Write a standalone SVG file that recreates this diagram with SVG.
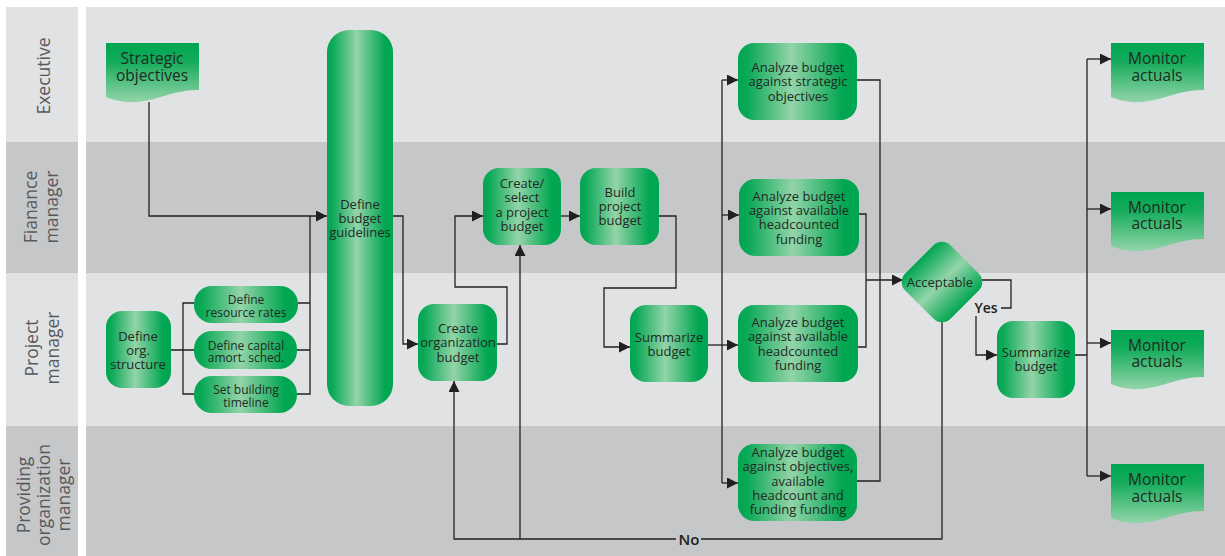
<svg xmlns="http://www.w3.org/2000/svg" width="1225" height="556" viewBox="0 0 1225 556">
<style>
.laneL{fill:#e1e2e4}
.laneD{fill:#c6c7c9}
.lt{font-family:"Open Sans","Noto Sans",sans-serif;font-size:17.5px;fill:#58595b;text-anchor:middle}
.nt{font-family:"Open Sans","Noto Sans",sans-serif;font-size:13px;fill:#1f2a22;text-anchor:middle}
.st{font-size:12px}
.dt{font-family:"Open Sans","Noto Sans",sans-serif;font-size:15.5px;fill:#1f2a22;text-anchor:middle}
.lbl{font-family:"Open Sans","Noto Sans",sans-serif;font-weight:600;fill:#231f20;text-anchor:middle}
.box{fill:url(#gH)}
.doc{fill:url(#gV)}
.c{fill:none;stroke:#231f20;stroke-width:1.3}
.a{marker-end:url(#ar)}
</style>
<defs>
<linearGradient id="gH" x1="0" y1="0" x2="1" y2="0">
<stop offset="0" stop-color="#00a651"/>
<stop offset="0.08" stop-color="#0ba957"/>
<stop offset="0.45" stop-color="#93d4a9"/>
<stop offset="0.88" stop-color="#00a651"/>
<stop offset="1" stop-color="#00a651"/>
</linearGradient>
<linearGradient id="gV" x1="0" y1="0" x2="0" y2="1">
<stop offset="0" stop-color="#00a651"/>
<stop offset="0.3" stop-color="#12ab5a"/>
<stop offset="1" stop-color="#93d4a9"/>
</linearGradient>
<linearGradient id="gD" x1="0" y1="0" x2="1" y2="0">
<stop offset="0" stop-color="#00a651"/>
<stop offset="0.5" stop-color="#93d4a9"/>
<stop offset="1" stop-color="#00a651"/>
</linearGradient>
<marker id="ar" markerUnits="userSpaceOnUse" markerWidth="11" markerHeight="11" refX="11" refY="5.5" orient="auto">
<path d="M0,0 L11,5.5 L0,11 Z" fill="#231f20"/>
</marker>
<path id="docShape" d="M0,0 H93 V47 C66,46 48,61 20,59 C11,58 5,56 0,54 Z"/>
</defs>

<g id="lanes">
<rect x="0" y="0" width="1225" height="556" fill="#ffffff"/>
<rect class="laneL" x="6" y="7" width="72" height="135"/>
<rect class="laneL" x="86" y="7" width="1139" height="135"/>
<rect class="laneD" x="6" y="142" width="72" height="131"/>
<rect class="laneD" x="86" y="142" width="1139" height="131"/>
<rect class="laneL" x="6" y="273" width="72" height="153"/>
<rect class="laneL" x="86" y="273" width="1139" height="153"/>
<rect class="laneD" x="6" y="426" width="72" height="130"/>
<rect class="laneD" x="86" y="426" width="1139" height="130"/>
<text class="lt" transform="translate(50,76) rotate(-90)">Executive</text>
<text class="lt" transform="translate(37,207) rotate(-90)">Fianance</text>
<text class="lt" transform="translate(58,207) rotate(-90)">manager</text>
<text class="lt" transform="translate(38,348) rotate(-90)">Project</text>
<text class="lt" transform="translate(59,348) rotate(-90)">manager</text>
<text class="lt" transform="translate(30,495) rotate(-90)">Providing</text>
<text class="lt" transform="translate(50,495) rotate(-90)">organization</text>
<text class="lt" transform="translate(70,495) rotate(-90)">manager</text>
</g>

<g id="connectors">
<path class="c a" d="M149,102 V216 H327"/>
<path class="c" d="M171,350 H194 M194,303 H183 V394 H194"/>
<path class="c" d="M298,303 H310 M297,350 H310 M297,394 H310 V216"/>
<path class="c a" d="M393,216 H403 V344 H418"/>
<path class="c a" d="M497,344 H507 V287 H455 V216 H483"/>
<path class="c a" d="M561,216 H580"/>
<path class="c a" d="M659,216 H676 V288 H604 V347 H630"/>
<path class="c a" d="M708,345 H738"/>
<path class="c" d="M722,80 V483"/>
<path class="c a" d="M722,80 H738"/>
<path class="c a" d="M722,215 H739"/>
<path class="c a" d="M722,483 H738"/>
<path class="c" d="M857,80 H880 V481 H857"/>
<path class="c" d="M859,214 H866 V347 H858"/>
<path class="c a" d="M866,280 H903"/>
<path class="c" d="M982,280 H1011 V308 H1001"/>
<path class="c a" d="M976,316 V355 H997"/>
<path class="c" d="M1075,355 H1087 M1087,59 V476"/>
<path class="c a" d="M1087,59 H1111"/>
<path class="c a" d="M1087,209 H1111"/>
<path class="c a" d="M1087,343 H1111"/>
<path class="c a" d="M1087,476 H1111"/>
<path class="c" d="M942,322 V539 H701"/>
<path class="c a" d="M676,539 H454 V381"/>
<path class="c a" d="M520,539 V245"/>
<text class="lbl" x="689" y="545" font-size="15">No</text>
<text class="lbl" x="986" y="313" font-size="14">Yes</text>
</g>

<g id="strategic-objectives">
<use href="#docShape" class="doc" x="106" y="43"/>
<text class="dt" x="152" y="64">Strategic</text>
<text class="dt" x="152" y="81">objectives</text>
</g>

<g id="define-budget-guidelines">
<rect class="box" x="327" y="30" width="66" height="376" rx="22"/>
<text class="nt" x="360" y="209">Define</text>
<text class="nt" x="360" y="223">budget</text>
<text class="nt" x="360" y="237">guidelines</text>
</g>

<g id="define-org-structure">
<rect class="box" x="106" y="311" width="65" height="77" rx="16"/>
<text class="nt" x="138" y="341">Define</text>
<text class="nt" x="138" y="355">org.</text>
<text class="nt" x="138" y="369">structure</text>
</g>

<g id="define-resource-rates">
<rect class="box" x="194" y="286" width="104" height="37" rx="18"/>
<text class="nt st" x="246" y="304">Define</text>
<text class="nt st" x="246" y="317">resource rates</text>
</g>

<g id="define-capital">
<rect class="box" x="194" y="331" width="103" height="38" rx="18"/>
<text class="nt st" x="246" y="350">Define capital</text>
<text class="nt st" x="246" y="362">amort. sched.</text>
</g>

<g id="set-building-timeline">
<rect class="box" x="194" y="376" width="103" height="37" rx="18"/>
<text class="nt st" x="246" y="394">Set building</text>
<text class="nt st" x="246" y="407">timeline</text>
</g>

<g id="create-organization-budget">
<rect class="box" x="418" y="304" width="79" height="77" rx="16"/>
<text class="nt" x="458" y="333">Create</text>
<text class="nt" x="458" y="347">organization</text>
<text class="nt" x="458" y="362">budget</text>
</g>

<g id="create-select-project-budget">
<rect class="box" x="483" y="168" width="78" height="77" rx="16"/>
<text class="nt" x="522" y="188">Create/</text>
<text class="nt" x="522" y="202">select</text>
<text class="nt" x="522" y="217">a project</text>
<text class="nt" x="522" y="231">budget</text>
</g>

<g id="build-project-budget">
<rect class="box" x="580" y="168" width="79" height="77" rx="16"/>
<text class="nt" x="620" y="197">Build</text>
<text class="nt" x="620" y="211">project</text>
<text class="nt" x="620" y="225">budget</text>
</g>

<g id="summarize-budget-1">
<rect class="box" x="630" y="305" width="78" height="77" rx="16"/>
<text class="nt" x="669" y="342">Summarize</text>
<text class="nt" x="669" y="356">budget</text>
</g>

<g id="analyze-strategic">
<rect class="box" x="738" y="43" width="119" height="77" rx="16"/>
<text class="nt" x="798" y="72">Analyze budget</text>
<text class="nt" x="798" y="86">against strategic</text>
<text class="nt" x="798" y="101">objectives</text>
</g>

<g id="analyze-headcount-finance">
<rect class="box" x="739" y="179" width="120" height="77" rx="16"/>
<text class="nt" x="799" y="201">Analyze budget</text>
<text class="nt" x="799" y="215">against available</text>
<text class="nt" x="799" y="229">headcounted</text>
<text class="nt" x="799" y="244">funding</text>
</g>

<g id="analyze-headcount-project">
<rect class="box" x="738" y="305" width="120" height="77" rx="16"/>
<text class="nt" x="798" y="327">Analyze budget</text>
<text class="nt" x="798" y="341">against available</text>
<text class="nt" x="798" y="356">headcounted</text>
<text class="nt" x="798" y="370">funding</text>
</g>

<g id="analyze-objectives-providing">
<rect class="box" x="738" y="444" width="119" height="77" rx="16"/>
<text class="nt" x="798" y="457">Analyze budget</text>
<text class="nt" x="798" y="471">against objectives,</text>
<text class="nt" x="798" y="486">available</text>
<text class="nt" x="798" y="500">headcount and</text>
<text class="nt" x="798" y="514">funding funding</text>
</g>

<g id="acceptable">
<rect x="-32" y="-32" width="64" height="64" rx="12" fill="url(#gD)" transform="translate(942,282) rotate(45)"/>
<text class="nt" x="940" y="287">Acceptable</text>
</g>

<g id="summarize-budget-2">
<rect class="box" x="997" y="321" width="78" height="77" rx="16"/>
<text class="nt" x="1036" y="357">Summarize</text>
<text class="nt" x="1036" y="371">budget</text>
</g>

<g id="monitor-actuals-1">
<use href="#docShape" class="doc" x="1111" y="43"/>
<text class="dt" x="1157" y="64">Monitor</text>
<text class="dt" x="1157" y="81">actuals</text>
</g>
<g id="monitor-actuals-2">
<use href="#docShape" class="doc" x="1111" y="192"/>
<text class="dt" x="1157" y="213">Monitor</text>
<text class="dt" x="1157" y="229">actuals</text>
</g>
<g id="monitor-actuals-3">
<use href="#docShape" class="doc" x="1111" y="330"/>
<text class="dt" x="1157" y="351">Monitor</text>
<text class="dt" x="1157" y="367">actuals</text>
</g>
<g id="monitor-actuals-4">
<use href="#docShape" class="doc" x="1111" y="464"/>
<text class="dt" x="1157" y="485">Monitor</text>
<text class="dt" x="1157" y="502">actuals</text>
</g>
</svg>
